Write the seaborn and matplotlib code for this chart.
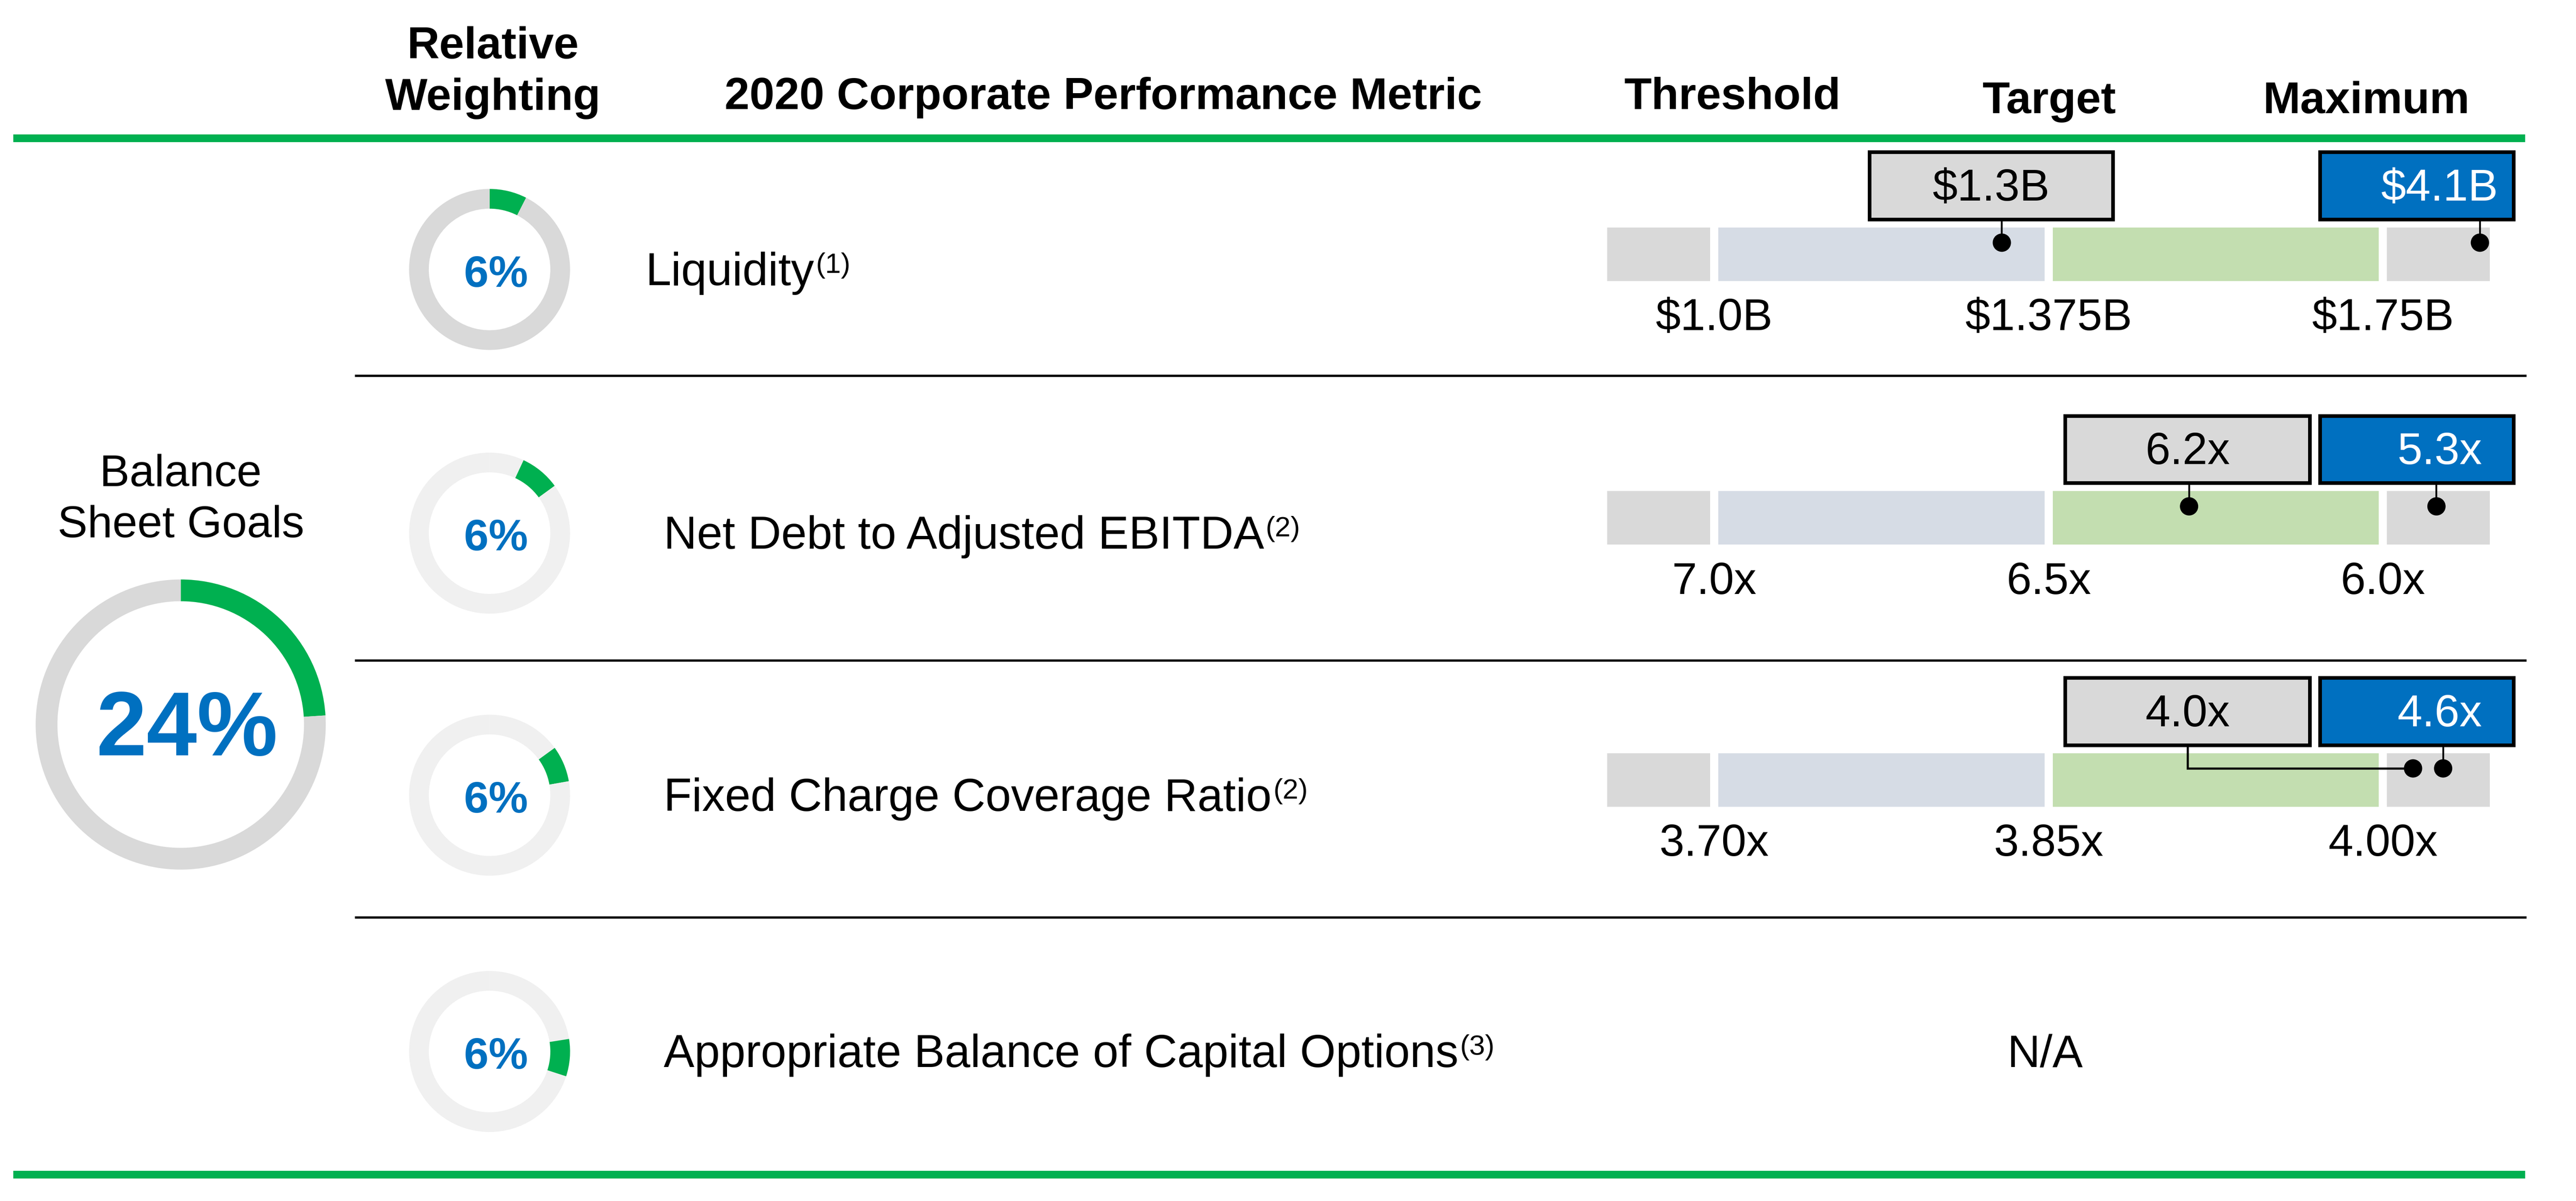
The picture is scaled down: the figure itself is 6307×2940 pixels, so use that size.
import numpy as np
import pandas as pd
import matplotlib
matplotlib.use("Agg")
import matplotlib.pyplot as plt
from matplotlib.patches import Rectangle
import seaborn as sns

# ---------------- data ----------------
header_weight = ["Relative", "Weighting"]
header_metric = "2020 Corporate Performance Metric"
header_levels = ["Threshold", "Target", "Maximum"]
group_label = ["Balance", "Sheet Goals"]
group_weight = 24  # %

metrics = ["Liquidity", "Net Debt to Adjusted EBITDA",
           "Fixed Charge Coverage Ratio", "Appropriate Balance of Capital Options"]
footnotes = ["(1)", "(2)", "(2)", "(3)"]
weights = [6, 6, 6, 6]
# green arc of each small ring as drawn (degrees, clockwise from 12 o'clock)
ring_arc_start = [0, 25, 54, 81]
ring_arc_span = [27, 29, 26, 27]

threshold_labels = ["$1.0B", "7.0x", "3.70x"]
target_labels = ["$1.375B", "6.5x", "3.85x"]
maximum_labels = ["$1.75B", "6.0x", "4.00x"]
actual_labels = ["$1.3B", "6.2x", "4.0x"]
maxcase_labels = ["$4.1B", "5.3x", "4.6x"]
# marker positions on the bar scale (threshold = 0, target = 1, maximum = 2)
actual_pos = [0.86, 1.42, 2.09]
maxcase_pos = [2.29, 2.16, 2.18]
scale_edges = [-0.32, 0.0, 1.0, 2.0, 2.32]
scale_ticks = [0, 1, 2]
na_label = "N/A"

# ---------------- style ----------------
sns.set_theme(style="white")
plt.rcParams["font.family"] = ["Liberation Sans", "DejaVu Sans"]
plt.rcParams["text.color"] = "black"

GREEN = "#00b050"
BLUE = "#0070c0"
GRAY = "#d9d9d9"
LIGHT = "#f0f0f0"
SEG_COLORS = ["#d9d9d9", "#d6dce5", "#c3deb0", "#d9d9d9"]

DPI = 200
W, H = 1568.0, 731.0          # layout units (px of a 1568-wide view)
fig = plt.figure(figsize=(6307 / DPI, 2940 / DPI), dpi=DPI)
fig.patch.set_facecolor("white")

ax0 = fig.add_axes([0, 0, 1, 1])
ax0.set_xlim(0, W)
ax0.set_ylim(H, 0)
ax0.axis("off")

row_cy = [164, 324.5, 484, 640]
sep_y = [228.7, 402, 558.5]
ring_cx, ring_r = 298, 49
big_cx, big_cy, big_r = 110, 441, 88.3
U0, UNIT = 1043.5, 203.5       # layout x of scale 0 and length of one scale unit
bar_h = 32.6

# ---- rules ----
for y in (84, 714.8):
    ax0.plot([8, 1537], [y, y], color=GREEN, lw=6.8, solid_capstyle="butt")
for y in sep_y:
    ax0.plot([216, 1538], [y, y], color="black", lw=2.0, solid_capstyle="butt")

# ---- headers ----
hkw = dict(fontsize=39.5, fontweight="bold", color="black", ha="center", va="baseline")
ax0.text(300, 35.5, header_weight[0], **hkw)
ax0.text(300, 67, header_weight[1], **hkw)
ax0.text(671.5, 66.3, header_metric, **hkw)
for x, y, t in zip([1054.5, 1247.5, 1440.5], [66.3, 68.8, 68.8], header_levels):
    ax0.text(x, y, t, **hkw)

# ---- big donut ----
axb = fig.add_axes([(big_cx - big_r) / W, 1 - (big_cy + big_r) / H, 2 * big_r / W, 2 * big_r / H])
axb.pie([group_weight, 100 - group_weight], colors=[GREEN, GRAY], startangle=90,
        counterclock=False, radius=1, wedgeprops=dict(width=0.15, linewidth=0))
axb.set_xlim(-1, 1); axb.set_ylim(-1, 1); axb.set_aspect("equal"); axb.axis("off")
ax0.text(big_cx + 3.7, big_cy + 18.8, f"{group_weight}%", fontsize=80, fontweight="bold",
         color=BLUE, ha="center", va="baseline")
ax0.text(big_cx, 296, group_label[0], fontsize=39.5, color="black", ha="center", va="baseline")
ax0.text(big_cx, 327, group_label[1], fontsize=39.5, color="black", ha="center", va="baseline")

# ---- small donuts + metric names ----
renderer = fig.canvas.get_renderer()
for i, cy in enumerate(row_cy):
    ax = fig.add_axes([(ring_cx - ring_r) / W, 1 - (cy + ring_r) / H, 2 * ring_r / W, 2 * ring_r / H])
    base = GRAY if i == 0 else LIGHT
    rest = 360 - ring_arc_start[i] - ring_arc_span[i]
    ax.pie([ring_arc_start[i], ring_arc_span[i], rest], colors=[base, GREEN, base],
           startangle=90, counterclock=False, radius=1,
           wedgeprops=dict(width=0.245, linewidth=0))
    ax.set_xlim(-1, 1); ax.set_ylim(-1, 1); ax.set_aspect("equal"); ax.axis("off")
    ax0.text(ring_cx + 4, cy + 10.5, f"{weights[i]}%", fontsize=39, fontweight="bold",
             color=BLUE, ha="center", va="baseline")

    lx = 393 if i == 0 else 404
    t = ax0.text(lx, cy + 9.5, metrics[i], fontsize=40.5, color="black", ha="left", va="baseline")
    bb = t.get_window_extent(renderer=renderer)
    xr = ax0.transData.inverted().transform((bb.x1, bb.y0))[0]
    ax0.text(xr + 1.0, cy + 2.0, footnotes[i], fontsize=25, color="black", ha="left", va="baseline")

ax0.text(1245, row_cy[3] + 9.5, na_label, fontsize=40, color="black", ha="center", va="baseline")

# ---- bar scales ----
x0 = U0 + UNIT * scale_edges[0]
x1 = U0 + UNIT * scale_edges[-1]
axs = fig.add_axes([x0 / W, 0, (x1 - x0) / W, 1])
axs.set_xlim(scale_edges[0], scale_edges[-1])
axs.set_ylim(H, 0)
axs.patch.set_alpha(0)
axs.axis("off")

gap = 5.0 / UNIT
dots = []
for i in range(3):
    cy = row_cy[i]
    bcy = cy - 9.3
    for k in range(4):
        lo = scale_edges[k] + (gap / 2 if k > 0 else 0)
        hi = scale_edges[k + 1] - (gap / 2 if k < 3 else 0)
        axs.barh(bcy, hi - lo, left=lo, height=bar_h, color=SEG_COLORS[k], linewidth=0, zorder=1)
    for u, lab in zip(scale_ticks, [threshold_labels[i], target_labels[i], maximum_labels[i]]):
        axs.text(u, bcy + bar_h / 2 + 30, lab, fontsize=39.5, color="black", ha="center",
                 va="baseline", parse_math=False, zorder=3)
    dot_y = bcy - 7
    dots.append({"pos": actual_pos[i], "y": dot_y})
    dots.append({"pos": maxcase_pos[i], "y": dot_y})

    # value boxes (layout units)
    top, bot = cy - 71.5, cy - 30.5
    gx0, gx1 = (1138, 1286) if i == 0 else (1257, 1406)
    ax0.add_patch(Rectangle((gx0, top), gx1 - gx0, bot - top, facecolor=GRAY,
                            edgecolor="black", lw=3.2, zorder=4))
    ax0.text((gx0 + gx1) / 2, (top + bot) / 2 + 9, actual_labels[i], fontsize=39.5,
             color="black", ha="center", va="baseline", parse_math=False, zorder=5)
    bx0, bx1 = 1412, 1530
    ax0.add_patch(Rectangle((bx0, top), bx1 - bx0, bot - top, facecolor=BLUE,
                            edgecolor="black", lw=3.2, zorder=4))
    ax0.text(1485, (top + bot) / 2 + 9, maxcase_labels[i], fontsize=39.5,
             color="white", ha="center", va="baseline", parse_math=False, zorder=5)

    # connectors
    if i < 2:
        axs.plot([actual_pos[i]] * 2, [bot, dot_y], color="black", lw=1.6, zorder=4)
    else:
        ux = ((gx0 + gx1) / 2 - U0) / UNIT
        axs.plot([ux, ux, actual_pos[i]], [bot, dot_y, dot_y], color="black", lw=1.9,
                 zorder=4, solid_joinstyle="miter")
    axs.plot([maxcase_pos[i]] * 2, [bot, dot_y], color="black", lw=1.6, zorder=4)

dots = pd.DataFrame(dots)
sns.scatterplot(data=dots, x="pos", y="y", ax=axs, s=260, color="black",
                edgecolor="none", legend=False, zorder=6)
axs.set_xlim(scale_edges[0], scale_edges[-1])
axs.set_ylim(H, 0)
axs.axis("off")

fig.savefig("out.png", dpi=DPI, facecolor="white")
